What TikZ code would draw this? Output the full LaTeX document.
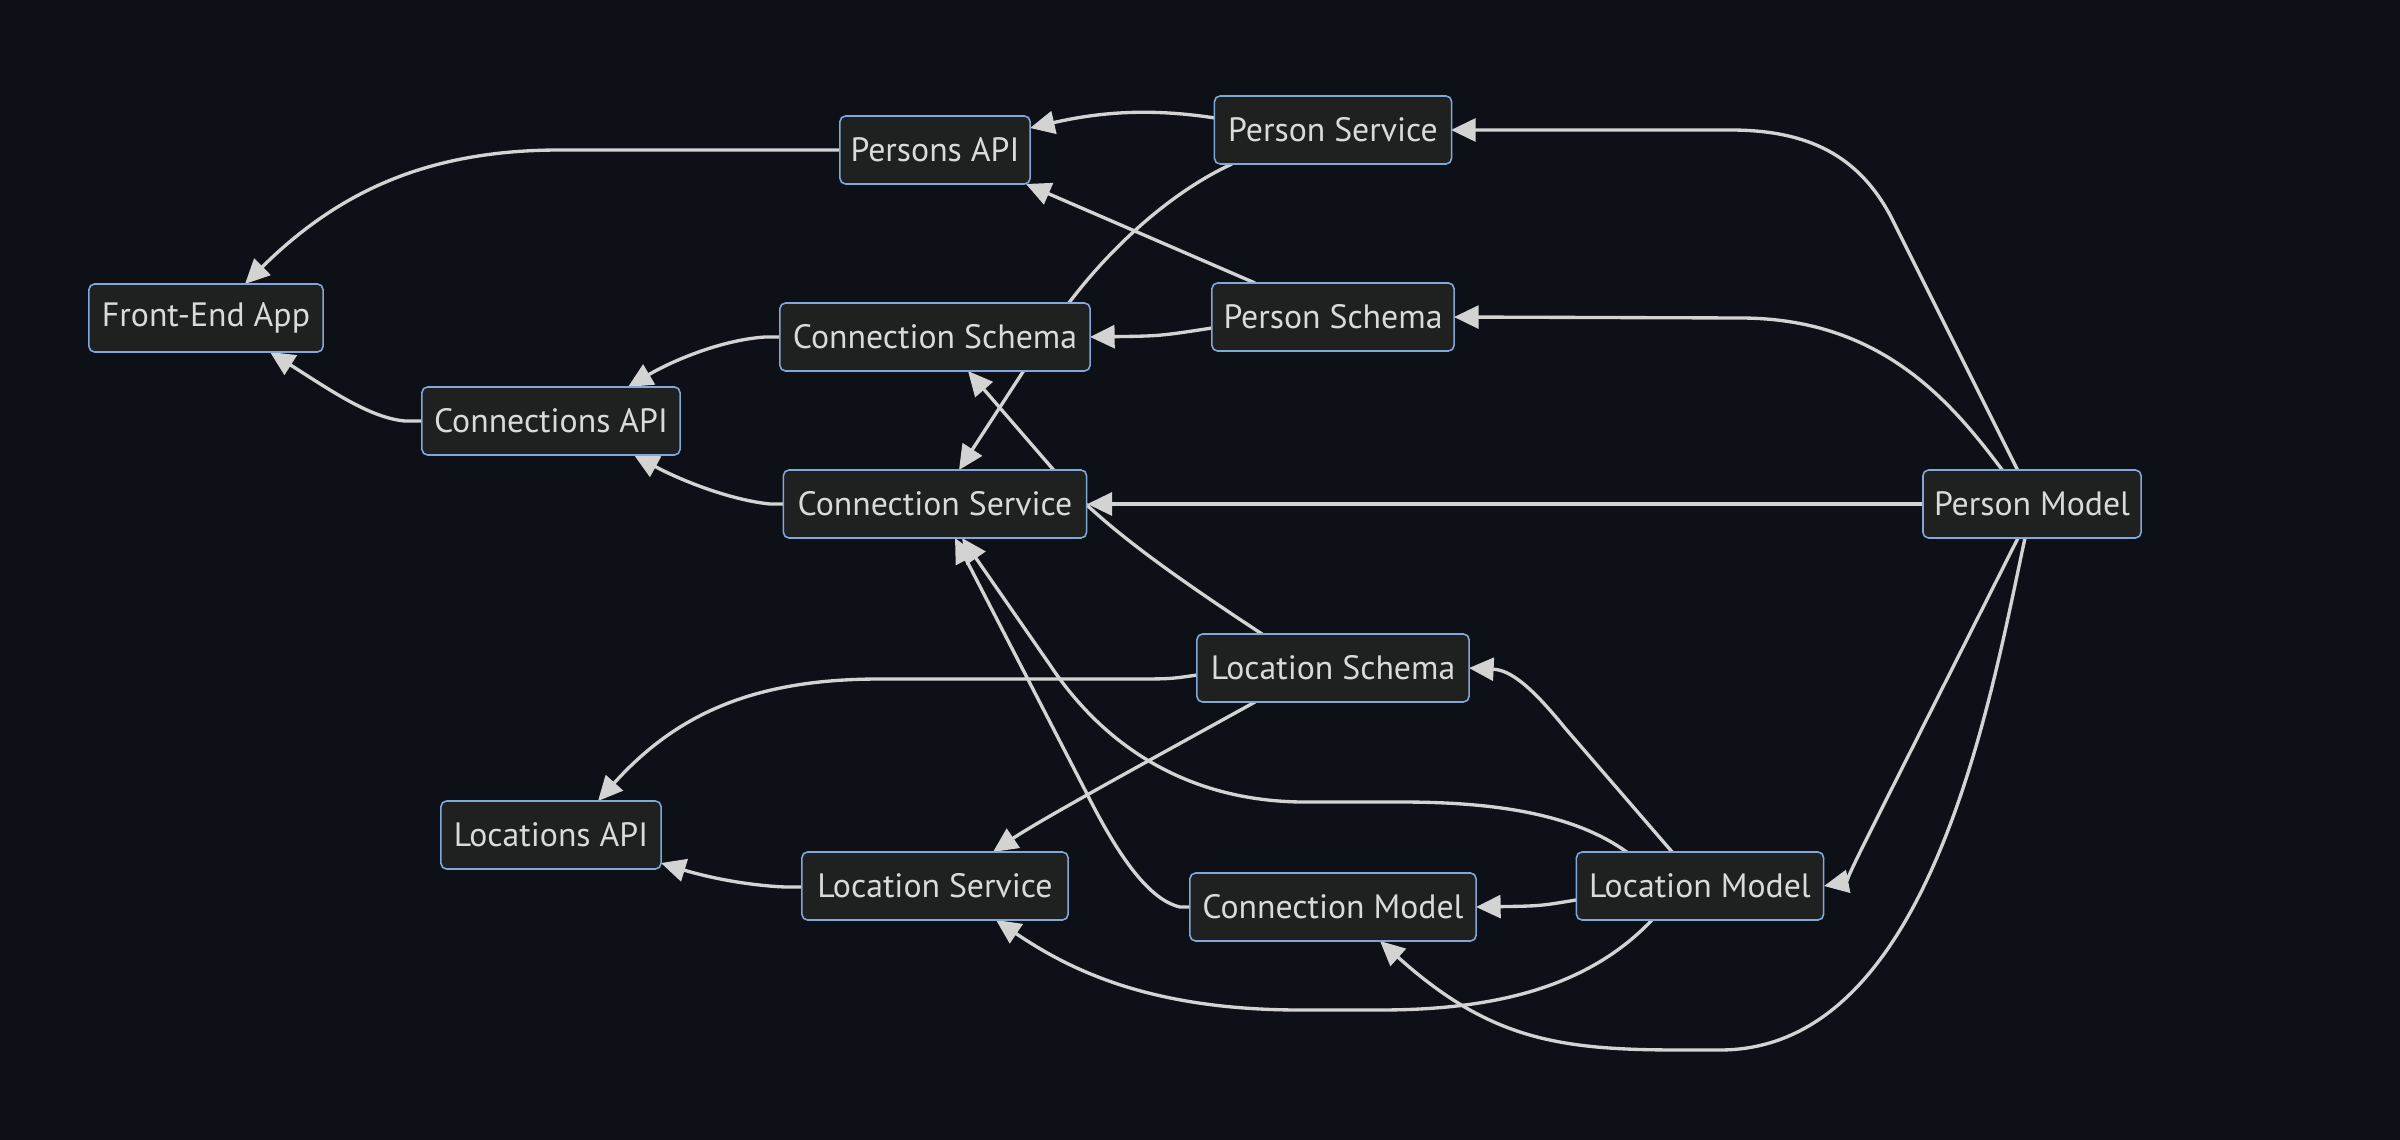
\documentclass[tikz,border=0pt]{standalone}
\usepackage{fontspec}
\setmainfont{PT Sans}
\usetikzlibrary{arrows.meta,calc}
\definecolor{bgc}{HTML}{0D1117}
\definecolor{nodefill}{HTML}{1F2020}
\definecolor{nodeborder}{HTML}{81A8D8}
\definecolor{edgec}{HTML}{D3D3D3}
\definecolor{txtc}{HTML}{DADADA}
\pgfdeclarelayer{bglayer}
\pgfdeclarelayer{edgelayer}
\pgfsetlayers{bglayer,edgelayer,main}
\tikzset{
  box/.style={draw=nodeborder, line width=0.45pt, fill=nodefill, rounded corners=1.6pt,
    text=txtc, inner sep=0pt, minimum height=0.68cm, font=\fontsize{9.6}{10}\selectfont},
  flow/.style={draw=edgec, line width=0.95pt, -{Triangle[length=7pt,width=6.5pt]}},
}
\begin{document}
\begin{tikzpicture}[x=0.01cm,y=-0.01cm]
\begin{pgfonlayer}{bglayer}
\fill[bgc] (0,0) rectangle (2400,1140);
\end{pgfonlayer}
\useasboundingbox (0,0) rectangle (2400,1140);

\node[box, minimum width=1.90cm] (pa) at (935,150) {Persons API};
\node[box, minimum width=2.37cm] (ps) at (1333,130) {Person Service};
\node[box, minimum width=2.34cm] (fe) at (206,318) {Front-End App};
\node[box, minimum width=3.10cm] (cs) at (935,337) {Connection Schema};
\node[box, minimum width=2.42cm] (psch) at (1333,317) {Person Schema};
\node[box, minimum width=2.58cm] (ca) at (551,421) {Connections API};
\node[box, minimum width=3.03cm] (csv) at (935,504) {Connection Service};
\node[box, minimum width=2.18cm] (pm) at (2032,504) {Person Model};
\node[box, minimum width=2.72cm] (lsch) at (1333,668) {Location Schema};
\node[box, minimum width=2.20cm] (la) at (551,835) {Locations API};
\node[box, minimum width=2.66cm] (lsv) at (935,886) {Location Service};
\node[box, minimum width=2.86cm] (cm) at (1333,907) {Connection Model};
\node[box, minimum width=2.47cm] (lm) at (1700,886) {Location Model};

\begin{pgfonlayer}{edgelayer}
% Persons API -> Front-End App
\draw[flow] (pa.west) -- (560,150) .. controls (430,150) and (340,190) .. ($(fe)+(39,-34)$);
% Person Service -> Persons API
\draw[flow] ($(ps)+(-118,-12)$) .. controls (1150,108) and (1100,112) .. ($(pa)+(95,-22)$);
% Person Schema -> Persons API
\draw[flow] ($(psch)+(-78,-34)$) -- ($(pa)+(91,34)$);
% Person Service -> Connection Service
\draw[flow] ($(ps)+(-101,34)$) .. controls (1175,190) and (1110,245) .. (1060,315) -- ($(csv)+(24,-34)$);
% Person Schema -> Connection Schema
\draw[flow] ($(psch)+(-121,11)$) .. controls (1160,336) .. ($(cs)+(155,0)$);
% Connection Schema -> Connections API
\draw[flow] ($(cs)+(-155,0)$) -- (765,337) .. controls (720,340) and (670,362) .. ($(ca)+(77,-34)$);
% Connections API -> Front-End App
\draw[flow] ($(ca)+(-129,0)$) -- (405,421) .. controls (370,418) and (330,390) .. ($(fe)+(64,34)$);
% Connection Service -> Connections API
\draw[flow] ($(csv)+(-151,0)$) -- (770,504) .. controls (730,500) and (680,480) .. ($(ca)+(83,34)$);
% Person Model -> Person Service
\draw[flow] ($(pm)+(-14,-33)$) -- (1890,215) .. controls (1855,150) and (1800,130) .. (1730,130) -- ($(ps)+(118,0)$);
% Person Model -> Person Schema
\draw[flow] ($(pm)+(-29,-33)$) .. controls (1950,400) and (1880,318) .. (1740,318) -- ($(psch)+(121,0)$);
% Person Model -> Connection Service
\draw[flow] (pm.west) -- (csv.east);
% Location Schema -> Connection Schema
\draw[flow] ($(lsch)+(-71,-34)$) .. controls (1180,580) and (1100,525) .. (1058,475) -- ($(cs)+(33,34)$);
% Location Schema -> Locations API
\draw[flow] ($(lsch)+(-136,7)$) .. controls (1170,679) .. (1130,679) -- (880,679) .. controls (760,679) and (680,710) .. ($(la)+(47,-34)$);
% Location Schema -> Location Service
\draw[flow] ($(lsch)+(-78,34)$) .. controls (1150,760) and (1040,820) .. ($(lsv)+(58,-34)$);
% Location Service -> Locations API
\draw[flow] ($(lsv)+(-133,1)$) -- (785,887) .. controls (740,885) and (700,875) .. ($(la)+(110,28)$);
% Location Model -> Location Schema
\draw[flow] ($(lm)+(-27,-33)$) -- (1565,728) .. controls (1530,685) and (1510,670) .. ($(lsch)+(136,0)$);
% Location Model -> Connection Service
\draw[flow] ($(lm)+(-72,-33)$) .. controls (1570,810) and (1480,802) .. (1400,802) -- (1300,802) .. controls (1180,800) and (1100,740) .. (1050,665) -- ($(csv)+(27,34)$);
% Connection Model -> Connection Service
\draw[flow] ($(cm)+(-143,0)$) -- (1180,907) .. controls (1150,900) and (1120,860) .. (1085,790) -- ($(csv)+(20,34)$);
% Location Model -> Connection Model
\draw[flow] ($(lm)+(-124,14)$) .. controls (1540,906) .. ($(cm)+(143,0)$);
% Location Model -> Location Service
\draw[flow] ($(lm)+(-48,34)$) .. controls (1590,985) and (1500,1010) .. (1380,1010) -- (1300,1010) .. controls (1150,1010) and (1070,970) .. ($(lsv)+(61,34)$);
% Person Model -> Location Model
\draw[flow] ($(pm)+(-14,34)$) -- (1880,812) .. controls (1857,858) and (1845,882) .. ($(lm)+(124,0)$);
% Person Model -> Connection Model
\draw[flow] ($(pm)+(-7,34)$) .. controls (1990,700) and (1930,1050) .. (1720,1050) -- (1680,1050) .. controls (1560,1050) and (1490,1040) .. ($(cm)+(47,34)$);
\end{pgfonlayer}
\end{tikzpicture}
\end{document}
